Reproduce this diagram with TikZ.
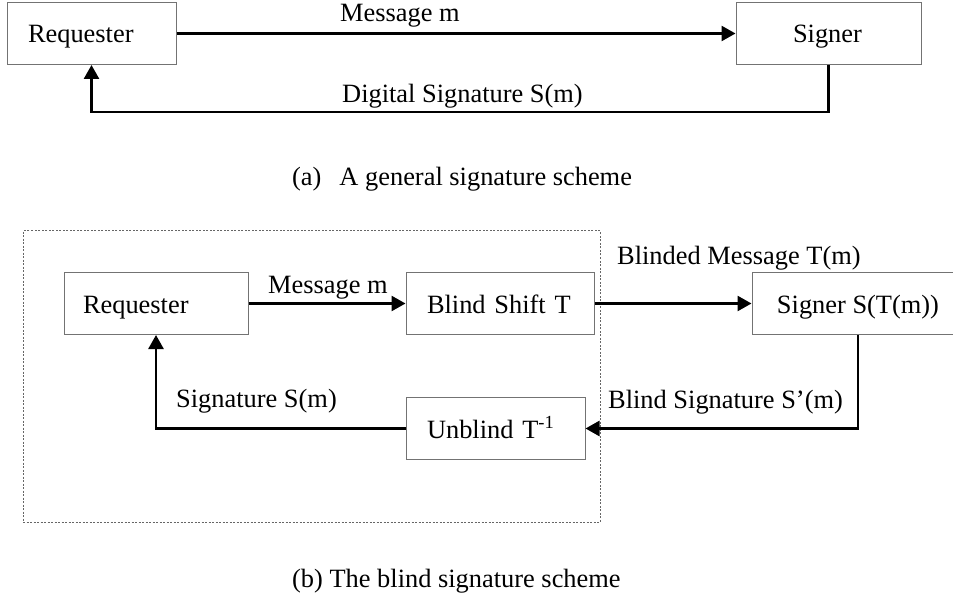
\documentclass[tikz,border=0pt]{standalone}
\usepackage{fontspec}
\setmainfont{Liberation Serif}
\usetikzlibrary{arrows.meta}
\begin{document}
\begin{tikzpicture}[x=1pt,y=-1pt,
  every node/.style={font=\fontsize{26.4}{30}\selectfont, inner sep=0pt},
  box/.style={draw=black!55, line width=1pt, minimum height=62pt,
    text height=20pt, text depth=1pt, align=left},
  lbl/.style={anchor=base west},
  arr/.style={line width=2.6pt, -{Triangle[length=14pt,width=15pt]}},
  frame/.style={draw=black!60, line width=1pt, dash pattern=on 2pt off 1.5pt}
]
\useasboundingbox (0,0) rectangle (953,596);
\clip (0,0) rectangle (953,596);

% ---------- (a) general scheme ----------
\node[box, inner xsep=21pt, text width=127pt] (req1) at (91.5,33.5) {Requester};
\node[box, inner xsep=57pt, text width=71pt] (sig1) at (828.5,33.5) {Signer};
\coordinate (r1) at (0,112);
\draw[arr] (req1) -- (sig1);
\draw[arr] (sig1.south) -- (sig1.south |- r1) -| (req1.south);
\node[lbl] (lm1) at (340,22) {Message m};
\node[lbl] (ld1) at (342,103) {Digital Signature S(m)};
\node[lbl] (capa) at (292,186) {(a)\hspace*{18pt}A general signature scheme};

% ---------- (b) blind scheme ----------
\node[frame, minimum width=577pt, minimum height=291pt] (fr) at (311.5,376.5) {};
\node[box, inner xsep=19pt, text width=146pt] (req2) at (156,303.5) {Requester};
\node[box, inner xsep=21pt, text width=146pt] (bs) at (500,303.5) {Blind Shift T};
\node[box, minimum width=212pt] (sg2) at (858,303.5) {Signer S(T(m))};
\node[box, inner xsep=21pt, text width=137pt] (ub) at (495.5,428.5) {Unblind T\textsuperscript{-1}};

\draw[arr] (req2) -- (bs);
\draw[arr] (bs) -- (sg2);
\draw[arr] (sg2.south) |- (ub.east);
\draw[arr] (ub.west) -| (req2.south);

\node[lbl] (lm2) at (268,293) {Message m};
\node[lbl] (lbm) at (617,265) {Blinded Message T(m)};
\node[lbl] (lbs) at (608,408) {Blind Signature S’(m)};
\node[lbl] (lss) at (176,407) {Signature S(m)};
\node[lbl] (capb) at (292,587) {(b) The blind signature scheme};
\end{tikzpicture}
\end{document}
